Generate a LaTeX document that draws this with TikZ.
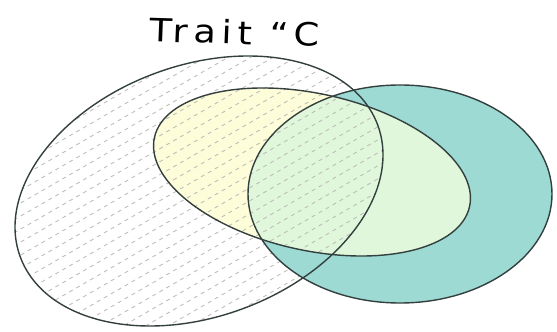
\documentclass[tikz,border=0pt]{standalone}
\usepackage{fontspec}
\newfontfamily\labfont[LetterSpace=16]{DejaVu Sans}
\definecolor{tealfill}{RGB}{157,218,212}
\definecolor{yelfill}{RGB}{254,253,217}
\definecolor{grnfill}{RGB}{224,247,220}
\definecolor{edge}{RGB}{52,64,62}
\definecolor{hatchc}{RGB}{190,190,185}
\tikzset{
  outline/.style={draw=edge, line width=1.4pt},
  hatchline/.style={draw=hatchc, line width=0.9pt, dash pattern=on 4pt off 4pt},
  bigell/.style={rotate=20.2, x radius=190.5, y radius=125.6},
  yelell/.style={rotate=-12.35, x radius=161.3, y radius=78.4},
  tealell/.style={x radius=152, y radius=109},
}
\begin{document}
\begin{tikzpicture}[x=1pt,y=1pt]
\useasboundingbox (0,0) rectangle (557,332);
\coordinate (cbig) at (199,141);
\coordinate (cyel) at (312,160);
\coordinate (cteal) at (400,138);
% fills
\fill[tealfill] (cteal) ellipse [tealell];
\fill[yelfill] (cyel) ellipse [yelell];
\begin{scope}
  \clip (cyel) ellipse [yelell];
  \fill[grnfill] (cteal) ellipse [tealell];
\end{scope}
% hatching inside the big ellipse
\begin{scope}
  \clip (cbig) ellipse [bigell];
  \foreach \k in {-260,-247,...,340}
    \draw[hatchline] (0,\k) -- (420,\k+242.5);
\end{scope}
% teal outside yellow covers hatching
\begin{scope}
  \clip (cteal) ellipse [tealell];
  \fill[tealfill, even odd rule] (-10,-10) rectangle (567,342) (cyel) ellipse [yelell];
\end{scope}
% outlines
\draw[outline] (cteal) ellipse [tealell];
\draw[outline] (cyel) ellipse [yelell];
\draw[outline] (cbig) ellipse [bigell];
% title
\node[font=\labfont\fontsize{32}{36}\selectfont, text=black, inner sep=0pt,
      anchor=base, xscale=1.15, rotate=-2] (title) at (234,288) {Trait “C};
\end{tikzpicture}
\end{document}
